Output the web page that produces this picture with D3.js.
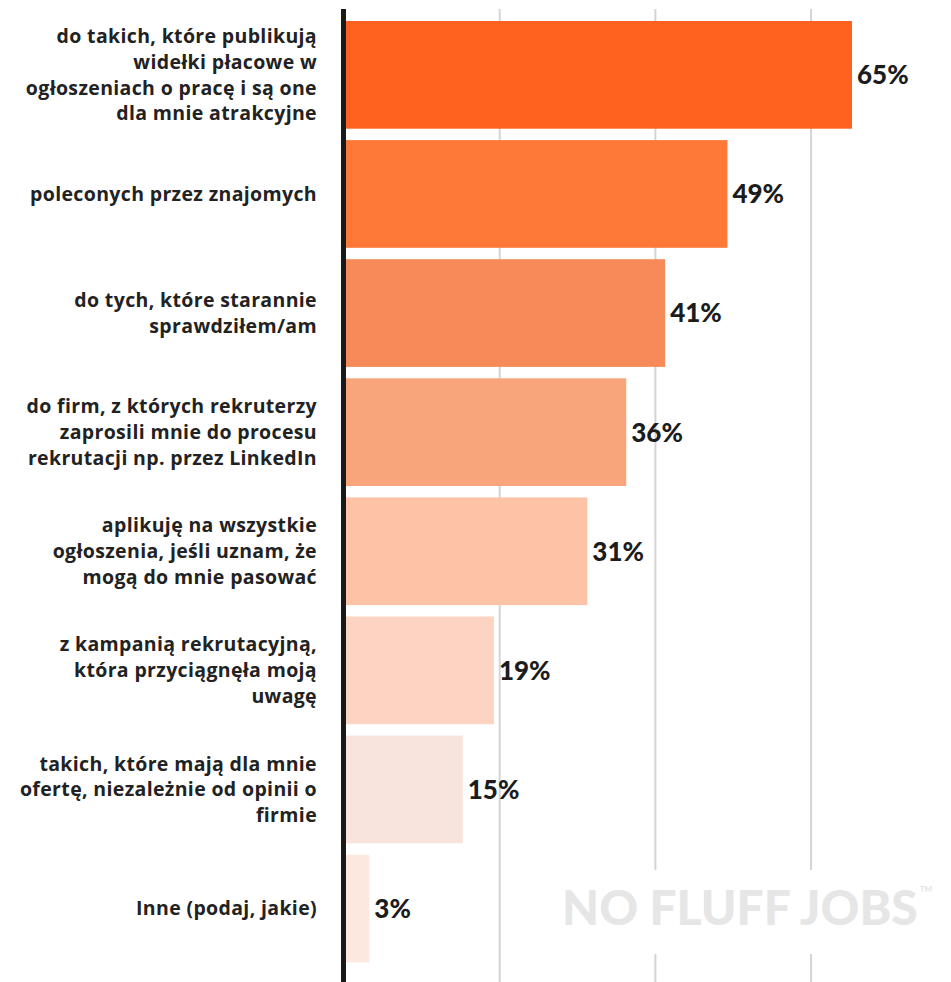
<!DOCTYPE html>
<meta charset="utf-8">
<style>
body { margin: 0; background: #fff; }
svg { display: block; }
.lbl { font-family: "Open Sans", Lato, sans-serif; font-weight: 700; font-size: 19.5px; letter-spacing: 0.35px; fill: #222; }
.val { font-family: Lato, sans-serif; font-weight: 900; font-size: 26px; fill: #1c1c1c; }
.mark { font-family: Lato, sans-serif; font-weight: 900; fill: #e6e6e6; }
</style>
<svg width="951" height="982"></svg>
<script src="https://cdn.jsdelivr.net/npm/d3@7/dist/d3.min.js"></script>
<script>

// answers, line breaks as in the original
var categories = [
  "do takich, które publikują|widełki płacowe w|ogłoszeniach o pracę i są one|dla mnie atrakcyjne",
  "poleconych przez znajomych",
  "do tych, które starannie|sprawdziłem/am",
  "do firm, z których rekruterzy|zaprosili mnie do procesu|rekrutacji np. przez LinkedIn",
  "aplikuję na wszystkie|ogłoszenia, jeśli uznam, że|mogą do mnie pasować",
  "z kampanią rekrutacyjną,|która przyciągnęła moją|uwagę",
  "takich, które mają dla mnie|ofertę, niezależnie od opinii o|firmie",
  "Inne (podaj, jakie)"
];
var values = [65, 49, 41, 36, 31, 19, 15, 3];
var gridTicks = [20, 40, 60];

var svg = d3.select("svg");

var x = d3.scaleLinear().domain([0, 65]).range([346, 852]);
var y = d3.scaleBand().domain(d3.range(values.length)).range([21, 962.4]).paddingInner(0.0957);
var color = d3.scaleOrdinal().domain(d3.range(values.length))
  .range(["#fe621e", "#fe7837", "#f68a58", "#f9a57b", "#fdc3a6", "#fcd4c1", "#f8e4dc", "#fde8df"]);

// gridlines
svg.selectAll("line.grid")
  .data(gridTicks)
  .enter().append("line")
  .attr("class", "grid")
  .attr("x1", function(d) { return x(d) - 2; })
  .attr("x2", function(d) { return x(d) - 2; })
  .attr("y1", 9).attr("y2", 982)
  .attr("stroke", "#d4d4d4").attr("stroke-width", 2);

// watermark, sits on a white patch that hides the grid
svg.append("rect")
  .attr("x", 545).attr("y", 870).attr("width", 400).attr("height", 84)
  .attr("fill", "#fff");
var mark = svg.append("text")
  .attr("class", "mark")
  .attr("x", 562).attr("y", 925)
  .attr("font-size", 48)
  .text("NO FLUFF JOBS");
var mw = mark.node().getComputedTextLength();
svg.append("text")
  .attr("class", "mark")
  .attr("x", 562 + mw + 2).attr("y", 892)
  .attr("font-size", 8)
  .text("TM");

// bars
svg.selectAll("rect.bar")
  .data(values)
  .enter().append("rect")
  .attr("class", "bar")
  .attr("x", x(0))
  .attr("y", function(d, i) { return y(i); })
  .attr("width", function(d) { return x(d) - x(0); })
  .attr("height", y.bandwidth())
  .attr("fill", function(d, i) { return color(i); });

// axis line
svg.append("line")
  .attr("x1", 343.5).attr("x2", 343.5)
  .attr("y1", 9).attr("y2", 982)
  .attr("stroke", "#1a1a1a").attr("stroke-width", 5);

// value labels
svg.selectAll("text.val")
  .data(values)
  .enter().append("text")
  .attr("class", "val")
  .attr("x", function(d) { return x(d) + 5; })
  .attr("y", function(d, i) { return y(i) + y.bandwidth() / 2; })
  .attr("dy", "0.36em")
  .text(function(d) { return d + "%"; });

// category labels
var lineH = 25.7;
var lbl = svg.selectAll("text.lbl")
  .data(categories)
  .enter().append("text")
  .attr("class", "lbl")
  .attr("text-anchor", "end");

lbl.selectAll("tspan")
  .data(function(d, i) {
    var lines = d.split("|");
    return lines.map(function(s, k) { return { s: s, k: k, n: lines.length, i: i }; });
  })
  .enter().append("tspan")
  .attr("x", 317)
  .attr("y", function(d) {
    return y(d.i) + y.bandwidth() / 2 + (d.k - (d.n - 1) / 2) * lineH;
  })
  .attr("dy", "0.35em")
  .text(function(d) { return d.s; });

</script>
